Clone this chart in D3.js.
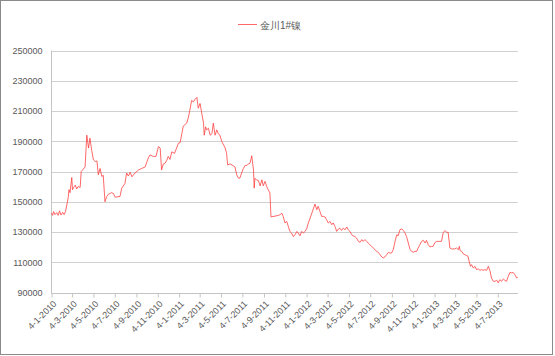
<!DOCTYPE html>
<html><head><meta charset="utf-8">
<script src="https://cdn.jsdelivr.net/npm/d3@7/dist/d3.min.js"></script>
<style>
html,body{margin:0;padding:0;background:#fff;}
svg{display:block;}
text{font-family:"Liberation Sans",Arial,sans-serif;fill:#595959;}
</style></head>
<body>
<svg id="chart" width="555" height="356"></svg>
<script>
const seriesName = "金川1#镍";

const dates = [
"2010-01-04","2010-01-07","2010-01-10","2010-01-14","2010-01-19","2010-01-23","2010-01-27","2010-01-31","2010-02-05","2010-02-09","2010-02-13","2010-02-18","2010-02-21","2010-02-23","2010-02-26","2010-03-03","2010-03-05","2010-03-10","2010-03-13","2010-03-17","2010-03-21","2010-03-27","2010-03-30","2010-04-05","2010-04-10","2010-04-15","2010-04-20","2010-04-24","2010-04-29","2010-05-04","2010-05-09","2010-05-14","2010-05-18","2010-05-23","2010-05-28","2010-06-01","2010-06-06","2010-06-11","2010-06-16","2010-06-25","2010-06-30","2010-07-05","2010-07-19","2010-07-24","2010-08-02","2010-08-07","2010-08-12","2010-08-17","2010-08-22","2010-08-31","2010-09-10","2010-09-19","2010-09-29","2010-10-08","2010-10-13","2010-10-22","2010-10-30","2010-11-06","2010-11-11","2010-11-15","2010-11-20","2010-11-25","2010-11-30","2010-12-04","2010-12-09","2010-12-14","2010-12-22","2010-12-28",
"2011-01-02","2011-01-07","2011-01-12","2011-01-16","2011-01-26","2011-01-31","2011-02-04","2011-02-09","2011-02-14","2011-02-19","2011-02-24","2011-02-28","2011-03-05","2011-03-10","2011-03-15","2011-03-17","2011-03-21","2011-03-24","2011-03-29","2011-04-03","2011-04-08","2011-04-12","2011-04-17","2011-04-22","2011-04-26","2011-05-01","2011-05-06","2011-05-16","2011-05-20","2011-05-23","2011-05-30","2011-06-08","2011-06-13","2011-06-18","2011-06-23","2011-06-27","2011-07-02","2011-07-07","2011-07-12","2011-07-17","2011-07-21","2011-07-26","2011-07-31","2011-08-05","2011-08-07","2011-08-09","2011-08-14","2011-08-19","2011-08-24","2011-08-29","2011-09-02","2011-09-07","2011-09-12","2011-09-16","2011-09-21","2011-09-24","2011-10-06","2011-10-15","2011-10-20","2011-10-25","2011-10-29","2011-11-03","2011-11-08","2011-11-13","2011-11-17","2011-11-22","2011-11-27","2011-12-02","2011-12-07","2011-12-11","2011-12-16","2011-12-21","2011-12-26","2011-12-30",
"2012-01-04","2012-01-09","2012-01-14","2012-01-19","2012-01-23","2012-01-28","2012-02-02","2012-02-06","2012-02-11","2012-02-16","2012-02-21","2012-02-26","2012-03-01","2012-03-06","2012-03-11","2012-03-16","2012-03-20","2012-03-25","2012-03-30","2012-04-04","2012-04-08","2012-04-13","2012-04-18","2012-04-23","2012-04-28","2012-05-02","2012-05-07","2012-05-12","2012-05-16","2012-05-21","2012-05-26","2012-05-31","2012-06-05","2012-06-10","2012-06-14","2012-06-19","2012-06-24","2012-06-28","2012-07-03","2012-07-08","2012-07-13","2012-07-18","2012-07-22","2012-07-27","2012-08-01","2012-08-06","2012-08-10","2012-08-15","2012-08-20","2012-08-25","2012-08-29","2012-09-03","2012-09-08","2012-09-13","2012-09-18","2012-09-22","2012-09-27","2012-10-02","2012-10-07","2012-10-11","2012-10-16","2012-10-21","2012-10-26","2012-10-31","2012-11-04","2012-11-09","2012-11-14","2012-11-18","2012-11-23","2012-11-28","2012-12-03","2012-12-08","2012-12-12","2012-12-17","2012-12-22","2012-12-27","2012-12-31",
"2013-01-05","2013-01-10","2013-01-19","2013-01-24","2013-01-29","2013-02-03","2013-02-08","2013-02-12","2013-02-17","2013-02-22","2013-03-03","2013-03-08","2013-03-13","2013-03-16","2013-03-18","2013-03-23","2013-03-27","2013-04-01","2013-04-06","2013-04-10","2013-04-13","2013-04-17","2013-04-20","2013-04-25","2013-04-30","2013-05-04","2013-05-09","2013-05-14","2013-05-19","2013-05-23","2013-05-28","2013-06-02","2013-06-07","2013-06-12","2013-06-16","2013-06-21","2013-06-26","2013-07-01","2013-07-05","2013-07-10","2013-07-15","2013-07-20","2013-07-24","2013-07-29","2013-08-03","2013-08-08","2013-08-13","2013-08-17","2013-08-22","2013-08-27","2013-08-30"
];

const prices = [
142500,141000,143500,141500,142800,141000,144000,141200,143000,141500,143500,149300,153000,158000,156000,166000,158000,160000,161000,158500,160000,159500,170000,171600,173000,194000,185500,192000,184000,177700,176600,177000,167800,172000,166700,167500,150000,153500,155000,156000,155500,153000,153500,159000,162000,169000,167000,169500,166500,169000,171000,172000,173000,179000,181000,180000,180000,186500,185500,171000,175000,175500,177500,180000,178000,183000,182000,185500,
188700,189000,195000,200000,202000,206000,210700,217000,216000,217800,219000,211800,215000,208500,202000,194000,199500,197500,198600,194000,195000,202000,194000,197500,195000,194000,190000,185500,182000,174400,175000,173800,173000,167800,165600,165600,169000,172000,174000,174000,175000,175500,180400,171000,159000,165500,164500,164000,160500,164500,160500,163500,160000,158000,155800,140000,140500,141000,141400,142500,140300,136000,137000,133500,130400,129300,127000,128200,130400,129300,127500,130400,129300,130400,
132000,136000,139200,142500,145200,148500,144700,147000,143700,140300,140300,139900,138100,136000,137000,134800,136000,133700,130400,132000,132600,131000,132600,131500,133300,131500,130400,128200,127500,127000,126000,123800,123200,125000,123800,125000,123800,122700,121600,120500,119400,118300,117200,116600,115000,113500,112800,113500,115000,116600,116100,116100,118300,123800,128200,127500,131500,132000,131000,129500,127000,122700,118300,117200,116600,117200,117200,119400,121600,123800,124500,122700,124500,121600,120100,120500,120500,
123000,123800,123800,123800,129800,130900,129800,129800,119400,118800,118800,119400,118300,120500,117800,117200,115600,115000,114400,113900,110600,107300,108400,106200,107300,105100,105600,104700,105100,104700,105100,104700,107300,104000,99600,97400,97400,98100,96400,98500,97400,99000,98100,97400,100700,103300,102900,103300,101800,99600,100000
];

const tickLabels = ["4-1-2010","4-3-2010","4-5-2010","4-7-2010","4-9-2010","4-11-2010","4-1-2011","4-3-2011","4-5-2011","4-7-2011","4-9-2011","4-11-2011","4-1-2012","4-3-2012","4-5-2012","4-7-2012","4-9-2012","4-11-2012","4-1-2013","4-3-2013","4-5-2013","4-7-2013"];
const yTicks = [90000,110000,130000,150000,170000,190000,210000,230000,250000];

const parseISO = d3.timeParse("%Y-%m-%d");
const parseTick = d3.timeParse("%d-%m-%Y");
const data = dates.map((d,i)=>({date:parseISO(d), value:prices[i]}));

const svg = d3.select("#chart");
const L = 51.5, R = 517.7, T = 50.5, B = 292.5;

svg.append("rect").attr("x",0.5).attr("y",0.5).attr("width",552).attr("height",354)
  .attr("fill","#fff").attr("stroke","#8a8a8a").attr("stroke-width",1);

const x = d3.scaleTime().domain([data[0].date, data[data.length-1].date]).range([L, R]);
const y = d3.scaleLinear().domain([90000,250000]).range([B, T]);

// gridlines
svg.append("g").selectAll("line").data(yTicks).join("line")
  .attr("x1",L).attr("x2",R)
  .attr("y1",d=>Math.round(y(d))+0.5).attr("y2",d=>Math.round(y(d))+0.5)
  .attr("stroke","#d0d0d0").attr("stroke-width",1);

// y axis labels
const yAxis = d3.axisLeft(y).tickValues(yTicks).tickSize(0).tickPadding(9).tickFormat(d3.format("d"));
const gy = svg.append("g").attr("transform",`translate(${L},0)`).call(yAxis);
gy.select(".domain").remove();
gy.selectAll("text").attr("font-size","9px").attr("font-family","Liberation Sans, Arial, sans-serif").attr("fill","#595959");
// y axis line
svg.append("line").attr("x1",L).attr("x2",L).attr("y1",T).attr("y2",B+0.5).attr("stroke","#c4c4c4");

// x axis
const tickDates = tickLabels.map(s=>parseTick(s));
const xAxis = d3.axisBottom(x).tickValues(tickDates).tickSize(4).tickFormat((d,i)=>tickLabels[i]);
const gx = svg.append("g").attr("transform",`translate(0,${Math.round(B)+0.5})`).call(xAxis);
gx.select(".domain").attr("stroke","#c4c4c4").attr("d",`M${L},0H${R}`);
gx.selectAll(".tick line").attr("stroke","#c4c4c4");
gx.selectAll("text").attr("font-size","9px").attr("font-family","Liberation Sans, Arial, sans-serif").attr("fill","#595959")
  .attr("text-anchor","end").attr("dy",null).attr("y",null)
  .attr("transform","translate(5,11) rotate(-45)");

// line
const line = d3.line().x(d=>x(d.date)).y(d=>y(d.value));
svg.append("path").datum(data).attr("d",line).attr("fill","none")
  .attr("stroke","#ff3535").attr("stroke-width",0.75).attr("stroke-linejoin","round");

// legend
const lg = svg.append("g");
lg.append("line").attr("x1",238).attr("x2",257).attr("y1",24.5).attr("y2",24.5).attr("stroke","#ff3535").attr("stroke-width",0.75);
lg.append("text").attr("x",260).attr("y",28.5).attr("font-size","10px")
  .attr("font-family","Noto Sans CJK SC, sans-serif").attr("fill","#595959").text(seriesName);
</script>
</body></html>
